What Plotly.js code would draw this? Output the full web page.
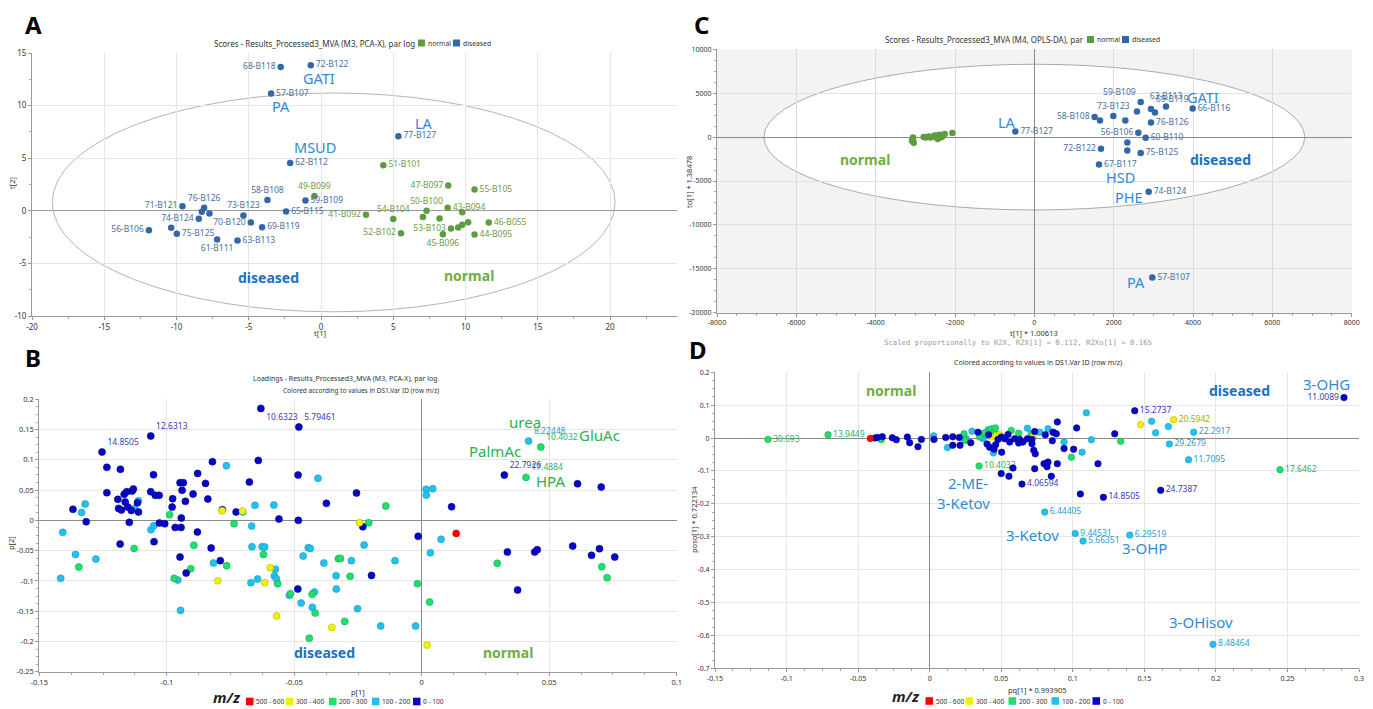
<!DOCTYPE html>
<html><head><meta charset="utf-8">
<script src="https://cdn.plot.ly/plotly-3.0.1.min.js"></script>
<style>html,body{margin:0;padding:0;background:#fff}#chart{width:1373px;height:709px}</style>
</head><body><div id="chart"></div>
<script>
// ================= DATA =================
// ---- Panel A : PCA-X scores ----
const A_dis_id = ["68-B118","72-B122","57-B107","62-B112","58-B108","59-B109","65-B115","71-B121","76-B126","","","73-B123","70-B120","74-B124","69-B119","56-B106","","75-B125","61-B111","63-B113","77-B127"];
const A_dis_t1 = [-2.79,-0.71,-3.46,-2.14,-3.71,-1.08,-2.42,-9.59,-8.09,-8.25,-7.72,-5.37,-4.86,-8.46,-4.08,-11.91,-10.37,-9.98,-7.19,-5.78,5.35];
const A_dis_t2 = [13.68,13.84,11.14,4.54,1.02,0.98,-0.06,0.44,0.29,-0.10,-0.25,-0.44,-1.11,-0.76,-1.56,-1.84,-1.62,-2.19,-2.73,-2.83,7.08];
const A_nor_id = ["49-B099","41-B092","51-B101","54-B104","52-B102","50-B100","","","47-B097","55-B105","43-B094","","53-B103","","","","45-B096","46-B055","44-B095"];
const A_nor_t1 = [-0.46,3.11,4.31,5.00,5.53,7.30,7.05,8.20,8.80,10.62,8.76,9.77,8.99,9.49,9.77,10.18,8.43,11.61,10.62];
const A_nor_t2 = [1.40,-0.38,4.32,-0.79,-2.13,0.00,-0.60,-0.73,2.41,2.03,0.29,-0.13,-1.68,-1.59,-1.33,-1.08,-2.22,-1.11,-2.25];
const A_ellipse_t1 = [-18.6, 20.35];
const A_ellipse_t2 = [-9.6, 11.2];
const A_xticks = [-20,-15,-10,-5,0,5,10,15,20];
const A_xtext  = ["-20","-15","-10","-5","0","5","10","15","20"];
const A_yticks = [-10,-5,0,5,10,15];
const A_ytext  = ["-10","-5","0","5","10","15"];

// ---- Panel B : PCA-X loadings, coloured by m/z class ----
const B_db_lab = ["14.8505","12.6313","10.6323","5.79461","22.7926"];
const B_db_x = [-0.1254,-0.1063,-0.0631,-0.0482,0.0324,-0.1235,-0.1182,-0.1235,-0.1368,-0.1316,-0.1192,-0.1189,-0.1178,-0.1167,-0.1157,-0.1136,-0.1131,-0.1163,-0.1153,-0.1139,-0.1115,-0.1111,-0.1147,-0.1183,-0.1063,-0.1052,-0.1045,-0.1030,-0.1029,-0.1008,-0.1050,-0.0977,-0.0979,-0.0967,-0.0944,-0.0943,-0.0948,-0.0935,-0.0940,-0.0927,-0.0948,-0.0924,-0.0897,-0.0879,-0.0880,-0.0848,-0.0839,-0.0821,-0.0826,-0.0790,-0.0782,-0.0641,-0.0676,-0.0485,-0.0728,-0.0560,-0.0484,-0.0374,-0.0256,-0.0231,-0.0197,-0.0486,-0.0014,0.0117,0.0336,0.0376,0.0443,0.0453,0.0611,0.0704,0.0592,0.0666,0.0697,0.0757];
const B_db_y = [0.1129,0.1393,0.1850,0.1542,0.0748,0.0876,0.0843,0.0457,0.0182,-0.0022,0.0347,0.0198,0.0171,0.0430,0.0474,0.0485,0.0518,0.0303,0.0220,0.0165,0.0292,0.0138,-0.0033,-0.0391,0.0474,0.0754,0.0413,0.0413,-0.0044,-0.0055,-0.0352,0.0358,0.0220,-0.0116,-0.0116,0.0039,0.0622,0.0622,0.0496,0.0314,-0.0606,-0.0870,0.0435,0.0776,-0.0193,0.0611,0.0352,0.0969,-0.0457,-0.0666,0.0176,0.0991,0.0633,0.0749,0.0138,0.0022,0.0000,0.0281,0.0452,-0.0105,-0.0909,-0.1134,-0.0264,0.0225,-0.0523,-0.1151,-0.0523,-0.0484,0.0605,0.0550,-0.0424,-0.0578,-0.0468,-0.0606];
const B_lb_lab = ["8.22448"];
const B_lb_x = [0.0419,-0.1408,-0.1358,-0.1334,-0.1320,-0.1278,-0.1416,-0.1127,-0.1111,-0.1062,-0.1051,-0.0957,-0.0946,-0.0817,-0.0766,-0.0702,-0.0654,-0.0580,-0.0407,-0.0667,-0.0666,-0.0626,-0.0616,-0.0670,-0.0644,-0.0574,-0.0578,-0.0570,-0.0519,-0.0473,-0.0465,-0.0445,-0.0437,-0.0421,-0.0429,-0.0384,-0.0336,-0.0335,-0.0276,-0.0226,-0.0105,-0.0252,-0.0161,-0.0024,0.0017,0.0043,0.0018,0.0034,0.0076];
const B_lb_y = [0.1310,-0.0198,-0.0562,0.0132,0.0270,-0.0639,-0.0958,0.0198,0.0325,-0.0154,-0.0088,-0.0986,-0.1487,-0.0705,0.0903,0.0138,0.0248,0.0253,0.0694,-0.0094,-0.0435,-0.0435,-0.0441,-0.1030,-0.0969,-0.0809,-0.0920,-0.0964,-0.1239,-0.1366,-0.0589,-0.0452,-0.0463,-0.1184,-0.1437,-0.0705,-0.0914,-0.1134,-0.0666,-0.0407,-0.0666,-0.1459,-0.1746,-0.1746,0.0512,0.0523,0.0418,-0.0535,-0.0314];
const B_g_lab = ["10.4032","17.4884"];
const B_g_x = [0.0467,0.0409,-0.0989,-0.1128,-0.1345,-0.0971,-0.0906,-0.0894,-0.0765,-0.0736,-0.0621,-0.0565,-0.0515,-0.0430,-0.0418,-0.0441,-0.0327,-0.0319,-0.0281,-0.0302,-0.0208,-0.0141,-0.0017,0.0031,0.0296,0.0706,0.0727];
const B_g_y = [0.1211,0.0710,0.0094,-0.0463,-0.0771,-0.0958,-0.0799,-0.0413,-0.0749,-0.0055,-0.0562,-0.1046,-0.1211,-0.1222,-0.1531,-0.1949,-0.0633,-0.0628,-0.0925,-0.1669,-0.0039,0.0237,-0.1046,-0.1349,-0.0710,-0.0766,-0.0947];
const B_y_x = [-0.0800,-0.0783,-0.0703,-0.0594,-0.0616,-0.0569,-0.0353,-0.0244,0.0021];
const B_y_y = [-0.0997,0.0160,0.0154,-0.0782,-0.1030,-0.1580,-0.1768,-0.0039,-0.2059];
const B_r_x = [0.0135];
const B_r_y = [-0.0215];
const B_xticks = [-0.15,-0.1,-0.05,0,0.05,0.1];
const B_xtext  = ["-0.15","-0.1","-0.05","0","0.05","0.1"];
const B_yticks = [-0.25,-0.2,-0.15,-0.1,-0.05,0,0.05,0.1,0.15,0.2];
const B_ytext  = ["-0.25","-0.2","-0.15","-0.1","-0.05","0","0.05","0.1","0.15","0.2"];

// ---- Panel C : OPLS-DA scores ----
const C_dis_id = ["77-B127","58-B108","","73-B123","","59-B109","","69-B119","","63-B113","66-B116","76-B126","56-B106","60-B110","","","72-B122","75-B125","67-B117","74-B124","57-B107"];
const C_dis_t1 = [-479,1520,1655,1991,2293,2681,2587,2940,3041,3318,3990,2940,2621,2806,2344,2344,1680,2681,1630,2881,2974];
const C_dis_to = [646,2278,1898,2392,1898,3986,2923,3189,2810,3493,3265,1670,493,-76,-607,-1518,-1329,-1822,-3113,-6226,-15980];
const C_nor_t1 = [-3066,-3083,-3041,-3058,-2789,-2730,-2663,-2621,-2579,-2512,-2470,-2453,-2436,-2386,-2369,-2327,-2260,-2067];
const C_nor_to = [-152,-418,-646,-38,0,-38,76,-38,38,190,-38,190,-228,266,-38,38,342,456];
const C_ellipse_t1 = [-6817, 6817];
const C_ellipse_to = [-8300, 8300];
const C_xticks = [-8000,-6000,-4000,-2000,0,2000,4000,6000,8000];
const C_xtext  = ["-8000","-6000","-4000","-2000","0","2000","4000","6000","8000"];
const C_yticks = [-20000,-15000,-10000,-5000,0,5000,10000];
const C_ytext  = ["-20000","-15000","-10000","-5000","0","5000","10000"];

// ---- Panel D : loadings, coloured by m/z class ----
const D_db_lab = ["15.2737","4.06594","14.8505","24.7387","11.0089"];
const D_db_x = [0.1433,0.0645,0.1214,0.1614,0.2895,-0.0382,-0.0366,-0.0331,-0.0261,-0.0233,-0.0156,-0.0140,-0.0082,-0.0058,0.0030,0.0112,0.0161,0.0161,0.0212,0.0207,0.0287,0.0338,0.0412,0.0401,0.0419,0.0450,0.0461,0.0503,0.0478,0.0501,0.0524,0.0547,0.0559,0.0594,0.0629,0.0622,0.0652,0.0683,0.0715,0.0715,0.0727,0.0738,0.0734,0.0808,0.0862,0.0892,0.0885,0.0857,0.0939,0.1006,0.1027,0.1176,0.1293,0.0500,0.0554,0.0582,0.0734,0.0799,0.0827,0.0820,0.0850,0.0892,0.1053];
const D_db_y = [0.083,-0.140,-0.180,-0.159,0.123,0,0.002,0.004,0.001,-0.005,0.003,-0.014,-0.026,-0.004,-0.004,0.002,0.004,-0.022,-0.022,0.002,-0.014,0.018,0.010,-0.018,-0.028,-0.034,-0.020,-0.043,-0.004,0.003,-0.002,0.011,-0.012,-0.002,-0.004,-0.015,-0.012,-0.002,-0.004,-0.017,-0.037,-0.048,0.020,0.010,0.018,0.049,0.013,-0.008,-0.032,-0.034,0.031,-0.078,0.013,-0.108,-0.116,-0.091,-0.093,-0.078,-0.073,-0.087,-0.116,-0.078,-0.170];
const D_lb_lab = ["22.2917","29.2679","11.7095","6.44405","9.44531","5.66351","6.29519","8.48464"];
const D_lb_x = [0.1845,0.1675,0.1809,0.0804,0.1017,0.1072,0.1398,0.1980,0.0028,0.0124,0.0256,0.0296,0.0363,0.0373,0.0408,0.0445,0.0683,0.0769,0.0827,0.0939,0.1065,0.1130,0.1095,0.1551,0.1579,0.1668];
const D_lb_y = [0.018,-0.018,-0.066,-0.225,-0.290,-0.313,-0.295,-0.627,0.007,-0.029,-0.002,0.021,0.011,-0.002,0.025,-0.045,0.030,0.018,0.028,-0.012,-0.043,-0.005,0.077,0.051,0.016,0.035];
const D_g_lab = ["30.693","13.9449","10.4032","17.6462"];
const D_g_x = [-0.1130,-0.0710,0.0345,0.2448,-0.0338,0.0233,0.0240,0.0245,0.0349,0.0384,0.0431,0.0454,0.0459,0.0570,0.0622,0.0710,0.0869,0.0990,0.1335];
const D_g_y = [-0.004,0.010,-0.085,-0.096,-0.005,0.003,0.013,-0.007,0.003,0.016,0.028,0.022,0.031,0.023,0.015,0.013,0.016,-0.058,-0.010];
const D_y_lab = ["20.5942"];
const D_y_x = [0.1705,0.0431,0.0466,0.0489,0.0727,0.1474];
const D_y_y = [0.056,0.003,0.008,0.010,0.008,0.041];
const D_r_x = [-0.0415];
const D_r_y = [-0.001];
const D_xticks = [-0.15,-0.1,-0.05,0,0.05,0.1,0.15,0.2,0.25,0.3];
const D_xtext  = ["-0.15","-0.1","-0.05","0","0.05","0.1","0.15","0.2","0.25","0.3"];
const D_yticks = [-0.7,-0.6,-0.5,-0.4,-0.3,-0.2,-0.1,0,0.1,0.2];
const D_ytext  = ["-0.7","-0.6","-0.5","-0.4","-0.3","-0.2","-0.1","0","0.1","0.2"];

// m/z colour classes
const mzClasses = ["500 - 600","300 - 400","200 - 300","100 - 200","0 - 100"];

// ================= STYLE / LAYOUT =================
const W=1373, H=709;
const px = v => v/W, py = v => 1 - v/H;
const FONT = "Noto Sans, Open Sans, sans-serif";
const COL = {red:'#ff0000', yel:'#f2f200', grn:'#1fe06a', lb:'#22c2f0', db:'#0606c8'};
const EDGE = {red:'#c00000', yel:'#b8b800', grn:'#14a850', lb:'#1a98c0', db:'#00008a'};
const LABCOL = {db:'#3a3ab8', lb:'#2aa0d0', grn:'#25b458', yel:'#a8a800'};
const mzColors = [COL.red, COL.yel, COL.grn, COL.lb, COL.db];
const DIS_MK='#3268a8', NOR_MK='#5e9c40', DIS_TX='#4a70a0', NOR_TX='#6f9a48';
const BIGBLUE='#2f8ad6', BOLDBLUE='#1a70c2', BIGGREEN='#25b34d', NORMGREEN='#70ad47';

function pad(lab, n){ return lab.concat(Array(n-lab.length).fill("")); }
function seq(a,b,s){ const r=[]; for(let v=a; v<=b+1e-9; v+=s) r.push(+v.toFixed(6)); return r; }

const traces = [];
function mk(xa, ya, x, y, color, edge, size, text, pos, tcol, tsize){
  traces.push({type:'scatter', mode: text ? 'markers+text':'markers', xaxis:xa, yaxis:ya, x:x, y:y,
    marker:{color:color, size:size, line:{color:edge, width:edge?0.6:0}},
    text:text, textposition:pos, cliponaxis:false,
    textfont:{family:FONT, size:tsize||8.5, color:tcol}, hoverinfo:'skip'});
}

// Panel A
const A_dis_pos = ["middle left","middle right","middle right","middle right","top center","middle right","middle right","middle left","top center","middle right","middle right","top center","middle left","middle left","middle right","middle left","middle right","middle right","bottom center","middle right","middle right"];
const A_nor_pos = ["top center","middle left","middle right","top center","middle left","top center","middle right","middle right","middle left","middle right","middle right","middle right","middle left","middle right","middle right","middle right","bottom center","middle right","middle right"];
mk('x','y', A_nor_t1, A_nor_t2, NOR_MK, null, 6.5, A_nor_id, A_nor_pos, NOR_TX, 8.5);
mk('x','y', A_dis_t1, A_dis_t2, DIS_MK, null, 6.5, A_dis_id, A_dis_pos, DIS_TX, 8.5);

// Panel B
mk('x2','y2', B_lb_x, B_lb_y, COL.lb, EDGE.lb, 7, pad(B_lb_lab,B_lb_x.length), 'top right', LABCOL.lb, 8.5);
mk('x2','y2', B_g_x, B_g_y, COL.grn, EDGE.grn, 7, pad(B_g_lab,B_g_x.length), 'top right', LABCOL.grn, 8.5);
mk('x2','y2', B_db_x, B_db_y, COL.db, EDGE.db, 7, pad(B_db_lab,B_db_x.length), ["top right","top right","bottom right","top right","top right"].concat(Array(B_db_x.length-5).fill("top right")), LABCOL.db, 8.5);
mk('x2','y2', B_y_x, B_y_y, COL.yel, EDGE.yel, 7, null, null, null);
mk('x2','y2', B_r_x, B_r_y, COL.red, EDGE.red, 7, null, null, null);

// Panel C
const C_dis_pos = ["middle right","middle left","middle right","top center","middle right","top left","middle right","top right","middle right","top center","middle right","middle right","middle left","middle right","middle right","middle right","middle left","middle right","middle right","middle right","middle right"];
mk('x3','y3', C_nor_t1, C_nor_to, NOR_MK, null, 6.5, null, null, null);
mk('x3','y3', C_dis_t1, C_dis_to, DIS_MK, null, 6.5, C_dis_id, C_dis_pos, DIS_TX, 8.5);

// Panel D
mk('x4','y4', D_lb_x, D_lb_y, COL.lb, EDGE.lb, 6.5, pad(D_lb_lab,D_lb_x.length), 'middle right', LABCOL.lb, 8.5);
mk('x4','y4', D_g_x, D_g_y, COL.grn, EDGE.grn, 6.5, pad(D_g_lab,D_g_x.length), 'middle right', LABCOL.grn, 8.5);
mk('x4','y4', D_y_x, D_y_y, COL.yel, EDGE.yel, 6.5, pad(D_y_lab,D_y_x.length), 'middle right', LABCOL.yel, 8.5);
mk('x4','y4', D_db_x, D_db_y, COL.db, EDGE.db, 6.5, pad(D_db_lab,D_db_x.length), ["middle right","middle right","middle right","middle right","middle left"].concat(Array(D_db_x.length-5).fill("middle right")), LABCOL.db, 8.5);
mk('x4','y4', D_r_x, D_r_y, COL.red, EDGE.red, 6.5, null, null, null);

function ax(domain, range, tv, tt, minorStep, fs, opts){
  return Object.assign({domain:domain, range:range, tickmode:'array', tickvals:tv, ticktext:tt,
    tickfont:{family:FONT, size:fs, color:'#333'}, ticks:'outside', ticklen:3, tickcolor:'#999',
    showline:true, linecolor:'#999', linewidth:1, showgrid:true, gridcolor:'#e6e6e6', gridwidth:1,
    zeroline:false, fixedrange:true,
    minor:{tickmode:'array', tickvals:seq(range[0],range[1],minorStep), ticks:'outside', ticklen:2, tickcolor:'#aaa', showgrid:false}}, opts||{});
}

const layout = {
  width:W, height:H, margin:{l:0,r:0,t:0,b:0}, paper_bgcolor:'#fff', plot_bgcolor:'rgba(0,0,0,0)',
  showlegend:false, hovermode:false, font:{family:FONT, color:'#333'},
  xaxis:  ax([px(32),px(677)], [-20,24.63], A_xticks, A_xtext, 2.5, 8, {anchor:'y'}),
  yaxis:  ax([py(316),py(53)], [-10,15], A_yticks, A_ytext, 2.5, 8, {anchor:'x', zeroline:true, zerolinecolor:'#9a9a9a'}),
  xaxis2: ax([px(39.3),px(676.7)], [-0.15,0.1], B_xticks, B_xtext, 0.0125, 7.5, {anchor:'y2', zeroline:true, zerolinecolor:'#8a8a8a'}),
  yaxis2: ax([py(671.7),py(399.3)], [-0.25,0.2], B_yticks, B_ytext, 0.0125, 7.5, {anchor:'x2', zeroline:true, zerolinecolor:'#8a8a8a'}),
  xaxis3: ax([px(717),px(1351.7)], [-8000,8000], C_xticks, C_xtext, 500, 7, {anchor:'y3', zeroline:true, zerolinecolor:'#8a8a8a', gridcolor:'#dcdcdc'}),
  yaxis3: ax([py(312.7),py(49.3)], [-20000,10000], C_yticks, C_ytext, 1250, 7, {anchor:'x3', zeroline:true, zerolinecolor:'#8a8a8a', gridcolor:'#e2e2e2'}),
  xaxis4: ax([px(715),px(1359)], [-0.15,0.3], D_xticks, D_xtext, 0.0125, 7, {anchor:'y4', zeroline:true, zerolinecolor:'#8a8a8a'}),
  yaxis4: ax([py(668.3),py(372.3)], [-0.7,0.2], D_yticks, D_ytext, 0.025, 7, {anchor:'x4', zeroline:true, zerolinecolor:'#8a8a8a'}),
  shapes: [], annotations: []
};
const S = layout.shapes, N = layout.annotations;

// ellipses / backgrounds
S.push({type:'circle', xref:'x', yref:'y', x0:A_ellipse_t1[0], x1:A_ellipse_t1[1], y0:A_ellipse_t2[0], y1:A_ellipse_t2[1], line:{color:'#b4b4b4', width:1}, layer:'below'});
S.push({type:'rect', xref:'x3 domain', yref:'y3 domain', x0:0, x1:1, y0:0, y1:1, fillcolor:'#f3f3f3', line:{width:0}, layer:'below'});
S.push({type:'circle', xref:'x3', yref:'y3', x0:C_ellipse_t1[0], x1:C_ellipse_t1[1], y0:C_ellipse_to[0], y1:C_ellipse_to[1], fillcolor:'#ffffff', line:{color:'#aaaaaa', width:1}, layer:'below'});

function ann(xref, yref, x, y, text, size, color, extra){
  N.push(Object.assign({xref:xref, yref:yref, x:x, y:y, text:text, showarrow:false, xanchor:'center', yanchor:'middle',
    font:{family:FONT, size:size, color:color}}, extra||{}));
}
function pann(xp, yp, text, size, color, extra){ ann('paper','paper', px(xp), py(yp), text, size, color, extra); }

// panel letters
pann(33,25,'<b>A</b>',24,'#000'); pann(33,357,'<b>B</b>',24,'#000');
pann(701,25,'<b>C</b>',24,'#000'); pann(698,349,'<b>D</b>',24,'#000');

// titles with group legends
pann(417,43,'Scores - Results_Processed3_MVA (M3, PCA-X), par log',8,'#333',{xanchor:'right'});
pann(1086,39.5,'Scores - Results_Processed3_MVA (M4, OPLS-DA), par',8,'#333',{xanchor:'right'});
function grpLegend(x, yc){
  S.push({type:'rect', xref:'paper', yref:'paper', x0:px(x), x1:px(x+7), y0:py(yc+3.5), y1:py(yc-3.5), fillcolor:NOR_MK, line:{width:0}});
  pann(x+7.5, yc, 'normal', 6.8, '#333', {xanchor:'left'});
  S.push({type:'rect', xref:'paper', yref:'paper', x0:px(x+35), x1:px(x+42), y0:py(yc+3.5), y1:py(yc-3.5), fillcolor:DIS_MK, line:{width:0}});
  pann(x+42.5, yc, 'diseased', 6.8, '#333', {xanchor:'left'});
}
grpLegend(418,43); grpLegend(1087,39.5);

pann(345,379,'Loadings - Results_Processed3_MVA (M3, PCA-X), par log',7,'#333');
pann(361,390,'Colored according to values in DS1.Var ID (row m/z)',6.5,'#333');
pann(1038,362,'Colored according to values in DS1.Var ID (row m/z)',7,'#333');

// axis titles
pann(320,333,'t[1]',7.5,'#333');
pann(12,183,'t[2]',7.5,'#333',{textangle:-90});
pann(358,692,'p[1]',7.5,'#333');
pann(11,543,'p[2]',7.5,'#333',{textangle:-90});
pann(1034,332.5,'t[1] * 1.00613',7.5,'#333');
pann(1018,342,'Scaled proportionally to R2X, R2X[1] = 0.112, R2Xo[1] = 0.165',7.3,'#999',{font:{family:'DejaVu Sans Mono, monospace', size:7.3, color:'#999'}});
pann(689,182,'to[1] * 1.38478',7.5,'#333',{textangle:-90});
pann(1037,690,'pq[1] * 0.993905',7.5,'#333');
pann(694,520,'poso[1] * 0.722134',7.5,'#333',{textangle:-90});

// m/z legends
function mzLegend(x0, yc, mzx){
  pann(mzx, yc-5, '<b><i>m/z</i></b>', 15, '#222');
  const offs=[0,40,83,126,167];
  mzClasses.forEach((c,i)=>{
    const x=x0+offs[i];
    S.push({type:'rect', xref:'paper', yref:'paper', x0:px(x), x1:px(x+7.5), y0:py(yc+3.8), y1:py(yc-3.8), fillcolor:mzColors[i], line:{width:0}});
    pann(x+8.3, yc, c, 6.6, '#333', {xanchor:'left'});
  });
}
mzLegend(246,701.5,227); mzLegend(925.5,701,906);

// Panel A text labels
const bigA = [['GATI',-0.12,12.64],['PA',-2.79,10.0],['MSUD',-0.42,6.05],['LA',7.15,8.3]];
bigA.forEach(b=>ann('x','y',b[1],b[2],b[0],14.5,BIGBLUE));
ann('x','y',-3.65,-6.31,'<b>diseased</b>',14,BOLDBLUE);
ann('x','y',10.26,-6.19,'<b>normal</b>',14,NORMGREEN);

// Panel B text labels
const bigB = [['urea',0.0406,0.1624],['GluAc',0.0697,0.1409],['PalmAc',0.0288,0.1145],['HPA',0.0504,0.0649]];
bigB.forEach(b=>ann('x2','y2',b[1],b[2],b[0],15,BIGGREEN));
ann('x2','y2',-0.0381,-0.2178,'<b>diseased</b>',14,BOLDBLUE);
ann('x2','y2',0.0337,-0.2187,'<b>normal</b>',14,NORMGREEN);

// Panel C text labels
const bigC = [['LA',-689,1742],['GATI',4260,4600],['HSD',2184,-4522],['PHE',2377,-6868],['PA',2562,-16480]];
bigC.forEach(b=>ann('x3','y3',b[1],b[2],b[0],14.5,BIGBLUE));
ann('x3','y3',4688,-2540,'<b>diseased</b>',14,BOLDBLUE);
ann('x3','y3',-4259,-2540,'<b>normal</b>',14,NORMGREEN);

// Panel D text labels
const bigD = [['3-OHG',0.2772,0.165],['2-ME-',0.0268,-0.136],['3-Ketov',0.0233,-0.198],['3-Ketov',0.0721,-0.296],['3-OHP',0.1502,-0.334],['3-OHisov',0.1899,-0.559]];
bigD.forEach(b=>ann('x4','y4',b[1],b[2],b[0],15,BIGBLUE));
ann('x4','y4',0.2166,0.145,'<b>diseased</b>',14,BOLDBLUE);
ann('x4','y4',-0.0268,0.145,'<b>normal</b>',14,NORMGREEN);

Plotly.newPlot('chart', traces, layout, {staticPlot:true, displayModeBar:false});
</script></body></html>
